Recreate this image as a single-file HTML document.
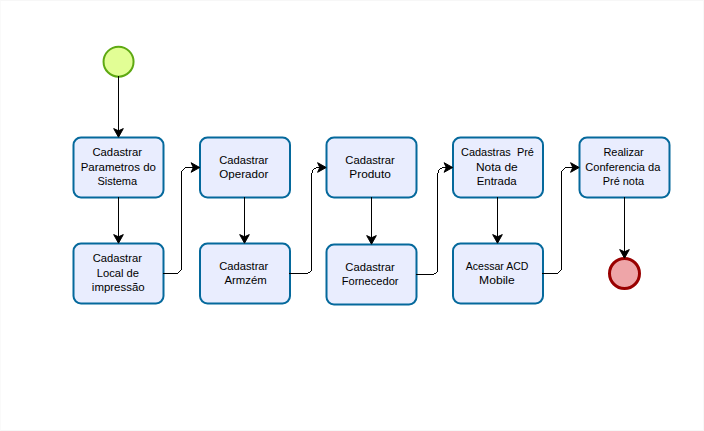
<!DOCTYPE html>
<html><head><meta charset="utf-8"><style>
html,body{margin:0;padding:0;background:#fff;}
body{width:704px;height:431px;overflow:hidden;position:relative;}
.frame{position:absolute;left:0;top:0;width:702px;height:429px;border-left:1px solid #fafafa;border-top:1px solid #f7f7f7;border-right:1px solid #f8f8f8;border-bottom:1px solid #f7f7f7;}
svg{position:absolute;left:0;top:0;}
text{font-family:"Liberation Sans",sans-serif;font-size:11px;fill:#000;}
</style></head><body><div class="frame"></div>
<svg width="704" height="431" viewBox="0 0 704 431">
<rect x="73.5" y="137.5" width="90" height="60" rx="7.5" ry="7.5" fill="#e9edfe" stroke="#05699c" stroke-width="2"/>
<rect x="73.5" y="243.5" width="90" height="60" rx="7.5" ry="7.5" fill="#e9edfe" stroke="#05699c" stroke-width="2"/>
<rect x="200" y="137.5" width="90" height="60" rx="7.5" ry="7.5" fill="#e9edfe" stroke="#05699c" stroke-width="2"/>
<rect x="200" y="243.5" width="90" height="60" rx="7.5" ry="7.5" fill="#e9edfe" stroke="#05699c" stroke-width="2"/>
<rect x="326.5" y="137.5" width="90" height="60" rx="7.5" ry="7.5" fill="#e9edfe" stroke="#05699c" stroke-width="2"/>
<rect x="326.5" y="244.5" width="90" height="60" rx="7.5" ry="7.5" fill="#e9edfe" stroke="#05699c" stroke-width="2"/>
<rect x="453" y="137.5" width="90" height="60" rx="7.5" ry="7.5" fill="#e9edfe" stroke="#05699c" stroke-width="2"/>
<rect x="453" y="243.5" width="90" height="60" rx="7.5" ry="7.5" fill="#e9edfe" stroke="#05699c" stroke-width="2"/>
<rect x="579.5" y="137.5" width="90" height="60" rx="7.5" ry="7.5" fill="#e9edfe" stroke="#05699c" stroke-width="2"/>
<circle cx="118.55" cy="61.7" r="15" fill="#e2fe95" stroke="#5ea912" stroke-width="2"/>
<circle cx="624.5" cy="273.5" r="15" fill="#eea5a8" stroke="#990000" stroke-width="3"/>
<g fill="#000" shape-rendering="crispEdges"><rect x="118" y="76" width="1" height="56"/><rect x="118" y="197" width="1" height="41"/><rect x="244" y="197" width="1" height="41"/><rect x="371" y="197" width="1" height="42"/><rect x="497" y="197" width="1" height="41"/><rect x="624" y="197" width="1" height="56"/><rect x="163" y="273" width="15" height="1"/><rect x="178" y="272" width="1" height="1"/><rect x="179" y="271" width="1" height="1"/><rect x="180" y="270" width="1" height="1"/><rect x="181" y="171" width="1" height="99"/><rect x="182" y="170" width="1" height="1"/><rect x="183" y="169" width="1" height="1"/><rect x="184" y="168" width="1" height="1"/><rect x="185" y="167" width="11" height="1"/><rect x="289" y="273" width="19" height="1"/><rect x="308" y="272" width="2" height="1"/><rect x="310" y="271" width="1" height="1"/><rect x="311" y="173" width="1" height="98"/><rect x="312" y="170" width="1" height="3"/><rect x="313" y="169" width="1" height="1"/><rect x="314" y="168" width="2" height="1"/><rect x="316" y="167" width="6" height="1"/><rect x="416" y="274" width="18" height="1"/><rect x="434" y="273" width="2" height="1"/><rect x="436" y="272" width="1" height="1"/><rect x="437" y="173" width="1" height="99"/><rect x="438" y="170" width="1" height="3"/><rect x="439" y="169" width="1" height="1"/><rect x="440" y="168" width="2" height="1"/><rect x="442" y="167" width="6" height="1"/><rect x="542" y="273" width="16" height="1"/><rect x="558" y="272" width="1" height="1"/><rect x="559" y="271" width="1" height="1"/><rect x="560" y="270" width="1" height="1"/><rect x="561" y="171" width="1" height="99"/><rect x="562" y="170" width="1" height="1"/><rect x="563" y="169" width="1" height="1"/><rect x="564" y="168" width="1" height="1"/><rect x="565" y="167" width="10" height="1"/></g>
<path d="M118.5,137.2 L113.7,128.6 L118.5,130.79999999999998 L123.3,128.6 Z M118.5,243.2 L113.7,234.6 L118.5,236.79999999999998 L123.3,234.6 Z M244.5,243.2 L239.7,234.6 L244.5,236.79999999999998 L249.3,234.6 Z M371.5,244.2 L366.7,235.6 L371.5,237.79999999999998 L376.3,235.6 Z M497.5,243.2 L492.7,234.6 L497.5,236.79999999999998 L502.3,234.6 Z M624.5,258.2 L619.7,249.6 L624.5,251.79999999999998 L629.3,249.6 Z M199.7,167.5 L191.1,162.7 L193.29999999999998,167.5 L191.1,172.3 Z M326.2,167.5 L317.59999999999997,162.7 L319.79999999999995,167.5 L317.59999999999997,172.3 Z M452.7,167.5 L444.09999999999997,162.7 L446.29999999999995,167.5 L444.09999999999997,172.3 Z M579.2,167.5 L570.6,162.7 L572.8000000000001,167.5 L570.6,172.3 Z" fill="#000" stroke="#000" stroke-width="1" stroke-linejoin="miter" stroke-miterlimit="1.5"/>
<g><text x="92.49" y="156.00" textLength="49.42" lengthAdjust="spacingAndGlyphs">Cadastrar</text><text x="80.66" y="170.50" textLength="75.25" lengthAdjust="spacingAndGlyphs">Parametros do</text><text x="97.40" y="185.00" textLength="39.74" lengthAdjust="spacingAndGlyphs">Sistema</text><text x="92.69" y="262.00" textLength="49.17" lengthAdjust="spacingAndGlyphs">Cadastrar</text><text x="96.78" y="276.50" textLength="42.31" lengthAdjust="spacingAndGlyphs">Local de</text><text x="91.87" y="291.00" textLength="52.79" lengthAdjust="spacingAndGlyphs">impressão</text><text x="219.19" y="164.00" textLength="49.11" lengthAdjust="spacingAndGlyphs">Cadastrar</text><text x="219.27" y="178.00" textLength="49.01" lengthAdjust="spacingAndGlyphs">Operador</text><text x="219.19" y="270.00" textLength="49.11" lengthAdjust="spacingAndGlyphs">Cadastrar</text><text x="224.40" y="284.00" textLength="42.27" lengthAdjust="spacingAndGlyphs">Armzém</text><text x="345.39" y="164.00" textLength="49.31" lengthAdjust="spacingAndGlyphs">Cadastrar</text><text x="349.33" y="178.00" textLength="41.53" lengthAdjust="spacingAndGlyphs">Produto</text><text x="345.39" y="271.00" textLength="49.31" lengthAdjust="spacingAndGlyphs">Cadastrar</text><text x="341.69" y="285.00" textLength="56.86" lengthAdjust="spacingAndGlyphs">Fornecedor</text><text x="461.00" y="156.00" textLength="72.91" lengthAdjust="spacingAndGlyphs">Cadastras&#160; Pré</text><text x="475.92" y="170.50" textLength="41.75" lengthAdjust="spacingAndGlyphs">Nota de</text><text x="476.72" y="185.00" textLength="39.91" lengthAdjust="spacingAndGlyphs">Entrada</text><text x="465.80" y="270.00" textLength="62.59" lengthAdjust="spacingAndGlyphs">Acessar ACD</text><text x="479.11" y="284.00" textLength="35.65" lengthAdjust="spacingAndGlyphs">Mobile</text><text x="603.40" y="156.00" textLength="40.35" lengthAdjust="spacingAndGlyphs">Realizar</text><text x="585.30" y="170.50" textLength="75.11" lengthAdjust="spacingAndGlyphs">Conferencia da</text><text x="602.76" y="185.00" textLength="41.33" lengthAdjust="spacingAndGlyphs">Pré nota</text></g>
</svg></body></html>
